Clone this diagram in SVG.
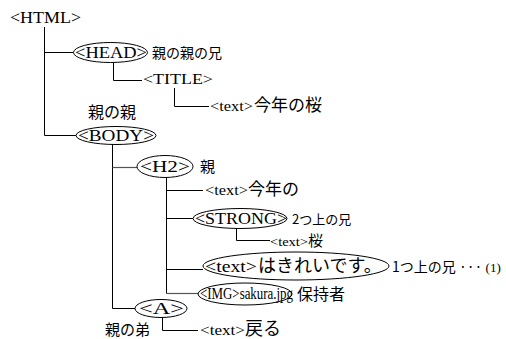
<svg xmlns="http://www.w3.org/2000/svg" width="506" height="339" viewBox="0 0 506 339">
<style>
.t{font-family:"Liberation Serif","Noto Sans CJK JP",serif;fill:#000}
.j{font-family:"Noto Sans CJK JP","Liberation Serif",sans-serif;fill:#000}
.e{fill:none;stroke:#000;stroke-width:1}
.l{fill:none;stroke:#000;stroke-width:1}
.g{fill:none;stroke:#555;stroke-width:1.2}
</style>
<rect width="506" height="339" fill="#fff"/>
<g id="connectors">
<path class="l" d="M44.5 27V135.5H76"/>
<path class="l" d="M44.5 52.5H73"/>
<path class="l" d="M113.5 63V80.5H142"/>
<path class="l" d="M174.5 88V106.5H209"/>
<path class="l" d="M112.5 144V308.5H135"/>
<path class="g" d="M112.5 167.5H137"/>
<path class="l" d="M166.5 177V293.5"/>
<path class="l" d="M166.5 190.5H203"/>
<path class="l" d="M166.5 218.5H193"/>
<path class="l" d="M236.5 228V240.5H270"/>
<path class="l" d="M166.5 269.5H203"/>
<path class="g" d="M166.5 293.5H198"/>
<path class="l" d="M162.5 317V330.5H198"/>
</g>
<g id="html"><text class="t" x="10" y="23" font-size="17" textLength="71" lengthAdjust="spacingAndGlyphs">&lt;HTML&gt;</text></g>
<g id="head">
<ellipse class="e" cx="110.5" cy="52.5" rx="37" ry="10"/>
<text class="t" x="75" y="58" font-size="17" textLength="72" lengthAdjust="spacingAndGlyphs">&lt;HEAD&gt;</text>
<text class="j" x="152" y="58" font-size="14">親の親の兄</text>
</g>
<g id="title"><text class="t" x="143" y="84" font-size="15" textLength="70" lengthAdjust="spacingAndGlyphs">&lt;TITLE&gt;</text></g>
<g id="title-text">
<text class="t" x="210" y="111" font-size="14" textLength="43" lengthAdjust="spacingAndGlyphs">&lt;text&gt;</text>
<text class="j" x="254" y="111" font-size="17">今年の桜</text>
</g>
<g id="body">
<text class="j" x="88" y="118" font-size="16">親の親</text>
<ellipse class="e" cx="116" cy="135.5" rx="40" ry="9"/>
<text class="t" x="78" y="141" font-size="17" textLength="76" lengthAdjust="spacingAndGlyphs">&lt;BODY&gt;</text>
</g>
<g id="h2">
<ellipse class="e" cx="165" cy="166.5" rx="28" ry="11"/>
<text class="t" x="140" y="172" font-size="17" textLength="50" lengthAdjust="spacingAndGlyphs">&lt;H2&gt;</text>
<text class="j" x="200" y="172" font-size="15">親</text>
</g>
<g id="h2-text">
<text class="t" x="205" y="195" font-size="14" textLength="43" lengthAdjust="spacingAndGlyphs">&lt;text&gt;</text>
<text class="j" x="248" y="195" font-size="17">今年の</text>
</g>
<g id="strong">
<ellipse class="e" cx="240" cy="218.5" rx="47" ry="10"/>
<text class="t" x="195" y="224" font-size="17" textLength="92" lengthAdjust="spacingAndGlyphs">&lt;STRONG&gt;</text>
<text class="j" x="292" y="224" font-size="13">2つ上の兄</text>
</g>
<g id="strong-text">
<text class="t" x="270" y="246" font-size="13" textLength="38" lengthAdjust="spacingAndGlyphs">&lt;text&gt;</text>
<text class="j" x="308" y="246" font-size="15">桜</text>
</g>
<g id="kirei">
<ellipse class="e" cx="296" cy="266" rx="93" ry="14"/>
<text class="t" x="205" y="272" font-size="16" textLength="52" lengthAdjust="spacingAndGlyphs">&lt;text&gt;</text>
<text class="j" x="258" y="272" font-size="18">はきれいです。</text>
<text class="j" x="392" y="272" font-size="14">1つ上の兄 ··· <tspan class="t" font-size="13">(1)</tspan></text>
</g>
<g id="img">
<ellipse class="e" cx="245" cy="294" rx="47" ry="11"/>
<text class="t" x="200" y="299" font-size="16" textLength="93" lengthAdjust="spacingAndGlyphs">&lt;IMG&gt;sakura.jpg</text>
<text class="j" x="297" y="300" font-size="16">保持者</text>
</g>
<g id="a">
<ellipse class="e" cx="161" cy="308.5" rx="26" ry="9"/>
<text class="t" x="139" y="314" font-size="16" textLength="45" lengthAdjust="spacingAndGlyphs">&lt;A&gt;</text>
<text class="j" x="105" y="335" font-size="15">親の弟</text>
</g>
<g id="a-text">
<text class="t" x="200" y="335" font-size="15" textLength="45" lengthAdjust="spacingAndGlyphs">&lt;text&gt;</text>
<text class="j" x="245" y="335" font-size="18">戻る</text>
</g>
</svg>
